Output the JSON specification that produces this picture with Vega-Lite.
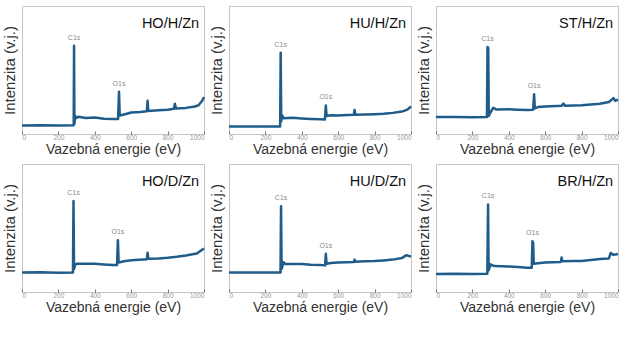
{
  "$schema": "https://vega.github.io/schema/vega-lite/v6.json",
  "padding": {"left": 1, "top": 5, "right": 5, "bottom": 5},
  "background": "white",
  "config": {
    "font": "Liberation Sans",
    "view": {"stroke": "#c4c4c4", "strokeWidth": 1},
    "line": {"color": "#1f5c8a", "strokeWidth": 2.5, "strokeJoin": "round"},
    "axisX": {
      "domain": false, "grid": false, "ticks": true, "tickSize": -3, "tickColor": "#777777",
      "labelFontSize": 6.5, "labelColor": "#999999", "labelPadding": 3, "format": "d",
      "titleFontSize": 14, "titleFontWeight": "normal", "titleColor": "#333333", "titlePadding": 2
    },
    "axisY": {
      "labels": false, "ticks": false, "domain": false, "grid": false,
      "titleFontSize": 15, "titleFontWeight": "normal", "titleColor": "#333333", "titlePadding": 5
    }
  },
  "datasets": {
    "spectra": [
      {"panel": "HO/H/Zn", "i": 1, "e": 0, "v": 6.6},
      {"panel": "HO/H/Zn", "i": 2, "e": 100, "v": 6.8},
      {"panel": "HO/H/Zn", "i": 3, "e": 200, "v": 6.6},
      {"panel": "HO/H/Zn", "i": 4, "e": 284, "v": 6.8},
      {"panel": "HO/H/Zn", "i": 5, "e": 286, "v": 69, "peak": "C1s"},
      {"panel": "HO/H/Zn", "i": 6, "e": 288, "v": 8},
      {"panel": "HO/H/Zn", "i": 7, "e": 292, "v": 14},
      {"panel": "HO/H/Zn", "i": 8, "e": 300, "v": 12.5},
      {"panel": "HO/H/Zn", "i": 9, "e": 310, "v": 13.5},
      {"panel": "HO/H/Zn", "i": 10, "e": 350, "v": 12.5},
      {"panel": "HO/H/Zn", "i": 11, "e": 400, "v": 12.8},
      {"panel": "HO/H/Zn", "i": 12, "e": 450, "v": 12},
      {"panel": "HO/H/Zn", "i": 13, "e": 500, "v": 11.8},
      {"panel": "HO/H/Zn", "i": 14, "e": 528, "v": 11.8},
      {"panel": "HO/H/Zn", "i": 15, "e": 533, "v": 33, "peak": "O1s"},
      {"panel": "HO/H/Zn", "i": 16, "e": 537, "v": 14.5},
      {"panel": "HO/H/Zn", "i": 17, "e": 560, "v": 15.3},
      {"panel": "HO/H/Zn", "i": 18, "e": 600, "v": 16.8},
      {"panel": "HO/H/Zn", "i": 19, "e": 650, "v": 17.2},
      {"panel": "HO/H/Zn", "i": 20, "e": 686, "v": 17.8},
      {"panel": "HO/H/Zn", "i": 21, "e": 690, "v": 26},
      {"panel": "HO/H/Zn", "i": 22, "e": 694, "v": 18},
      {"panel": "HO/H/Zn", "i": 23, "e": 750, "v": 18.5},
      {"panel": "HO/H/Zn", "i": 24, "e": 800, "v": 19},
      {"panel": "HO/H/Zn", "i": 25, "e": 835, "v": 19.8},
      {"panel": "HO/H/Zn", "i": 26, "e": 840, "v": 23.7},
      {"panel": "HO/H/Zn", "i": 27, "e": 846, "v": 20},
      {"panel": "HO/H/Zn", "i": 28, "e": 900, "v": 20.4},
      {"panel": "HO/H/Zn", "i": 29, "e": 950, "v": 21.5},
      {"panel": "HO/H/Zn", "i": 30, "e": 970, "v": 22.5},
      {"panel": "HO/H/Zn", "i": 31, "e": 990, "v": 26},
      {"panel": "HO/H/Zn", "i": 32, "e": 1000, "v": 28.8},

      {"panel": "HU/H/Zn", "i": 1, "e": 0, "v": 5.8},
      {"panel": "HU/H/Zn", "i": 2, "e": 100, "v": 5.9},
      {"panel": "HU/H/Zn", "i": 3, "e": 200, "v": 5.8},
      {"panel": "HU/H/Zn", "i": 4, "e": 281, "v": 5.9},
      {"panel": "HU/H/Zn", "i": 5, "e": 284, "v": 63.4, "peak": "C1s"},
      {"panel": "HU/H/Zn", "i": 6, "e": 287, "v": 10},
      {"panel": "HU/H/Zn", "i": 7, "e": 292, "v": 14.6},
      {"panel": "HU/H/Zn", "i": 8, "e": 300, "v": 12.4},
      {"panel": "HU/H/Zn", "i": 9, "e": 350, "v": 12.6},
      {"panel": "HU/H/Zn", "i": 10, "e": 400, "v": 12.2},
      {"panel": "HU/H/Zn", "i": 11, "e": 450, "v": 11.8},
      {"panel": "HU/H/Zn", "i": 12, "e": 500, "v": 11.5},
      {"panel": "HU/H/Zn", "i": 13, "e": 527, "v": 11.3},
      {"panel": "HU/H/Zn", "i": 14, "e": 532, "v": 22.3, "peak": "O1s"},
      {"panel": "HU/H/Zn", "i": 15, "e": 536, "v": 14},
      {"panel": "HU/H/Zn", "i": 16, "e": 560, "v": 14.6},
      {"panel": "HU/H/Zn", "i": 17, "e": 600, "v": 14.5},
      {"panel": "HU/H/Zn", "i": 18, "e": 650, "v": 14.8},
      {"panel": "HU/H/Zn", "i": 19, "e": 686, "v": 15},
      {"panel": "HU/H/Zn", "i": 20, "e": 690, "v": 18.7},
      {"panel": "HU/H/Zn", "i": 21, "e": 694, "v": 15},
      {"panel": "HU/H/Zn", "i": 22, "e": 750, "v": 15.2},
      {"panel": "HU/H/Zn", "i": 23, "e": 800, "v": 15.5},
      {"panel": "HU/H/Zn", "i": 24, "e": 850, "v": 15.8},
      {"panel": "HU/H/Zn", "i": 25, "e": 900, "v": 16.5},
      {"panel": "HU/H/Zn", "i": 26, "e": 950, "v": 17.5},
      {"panel": "HU/H/Zn", "i": 27, "e": 980, "v": 19},
      {"panel": "HU/H/Zn", "i": 28, "e": 1000, "v": 21.5},

      {"panel": "ST/H/Zn", "i": 1, "e": 0, "v": 13.2},
      {"panel": "ST/H/Zn", "i": 2, "e": 100, "v": 13.2},
      {"panel": "ST/H/Zn", "i": 3, "e": 200, "v": 13.1},
      {"panel": "ST/H/Zn", "i": 4, "e": 280, "v": 13.3},
      {"panel": "ST/H/Zn", "i": 5, "e": 283, "v": 68, "peak": "C1s"},
      {"panel": "ST/H/Zn", "i": 6, "e": 287, "v": 67},
      {"panel": "ST/H/Zn", "i": 7, "e": 290, "v": 14},
      {"panel": "ST/H/Zn", "i": 8, "e": 300, "v": 17},
      {"panel": "ST/H/Zn", "i": 9, "e": 315, "v": 20.5},
      {"panel": "ST/H/Zn", "i": 10, "e": 330, "v": 19.2},
      {"panel": "ST/H/Zn", "i": 11, "e": 400, "v": 19.3},
      {"panel": "ST/H/Zn", "i": 12, "e": 450, "v": 19},
      {"panel": "ST/H/Zn", "i": 13, "e": 500, "v": 18.8},
      {"panel": "ST/H/Zn", "i": 14, "e": 534, "v": 19},
      {"panel": "ST/H/Zn", "i": 15, "e": 539, "v": 31, "peak": "O1s"},
      {"panel": "ST/H/Zn", "i": 16, "e": 543, "v": 20},
      {"panel": "ST/H/Zn", "i": 17, "e": 560, "v": 21},
      {"panel": "ST/H/Zn", "i": 18, "e": 600, "v": 21.5},
      {"panel": "ST/H/Zn", "i": 19, "e": 690, "v": 22},
      {"panel": "ST/H/Zn", "i": 20, "e": 700, "v": 23.7},
      {"panel": "ST/H/Zn", "i": 21, "e": 710, "v": 22},
      {"panel": "ST/H/Zn", "i": 22, "e": 800, "v": 22.4},
      {"panel": "ST/H/Zn", "i": 23, "e": 850, "v": 23},
      {"panel": "ST/H/Zn", "i": 24, "e": 900, "v": 23.7},
      {"panel": "ST/H/Zn", "i": 25, "e": 950, "v": 25},
      {"panel": "ST/H/Zn", "i": 26, "e": 975, "v": 28},
      {"panel": "ST/H/Zn", "i": 27, "e": 985, "v": 26},
      {"panel": "ST/H/Zn", "i": 28, "e": 1000, "v": 26.8},

      {"panel": "HO/D/Zn", "i": 1, "e": 0, "v": 15.2},
      {"panel": "HO/D/Zn", "i": 2, "e": 100, "v": 15.4},
      {"panel": "HO/D/Zn", "i": 3, "e": 200, "v": 15},
      {"panel": "HO/D/Zn", "i": 4, "e": 280, "v": 15.3},
      {"panel": "HO/D/Zn", "i": 5, "e": 283, "v": 71, "peak": "C1s"},
      {"panel": "HO/D/Zn", "i": 6, "e": 286, "v": 18},
      {"panel": "HO/D/Zn", "i": 7, "e": 292, "v": 21.3},
      {"panel": "HO/D/Zn", "i": 8, "e": 300, "v": 22},
      {"panel": "HO/D/Zn", "i": 9, "e": 400, "v": 22},
      {"panel": "HO/D/Zn", "i": 10, "e": 450, "v": 21.5},
      {"panel": "HO/D/Zn", "i": 11, "e": 500, "v": 21},
      {"panel": "HO/D/Zn", "i": 12, "e": 522, "v": 21},
      {"panel": "HO/D/Zn", "i": 13, "e": 527, "v": 40.5, "peak": "O1s"},
      {"panel": "HO/D/Zn", "i": 14, "e": 531, "v": 23},
      {"panel": "HO/D/Zn", "i": 15, "e": 560, "v": 24},
      {"panel": "HO/D/Zn", "i": 16, "e": 600, "v": 24.8},
      {"panel": "HO/D/Zn", "i": 17, "e": 686, "v": 25.5},
      {"panel": "HO/D/Zn", "i": 18, "e": 690, "v": 30.7},
      {"panel": "HO/D/Zn", "i": 19, "e": 694, "v": 26},
      {"panel": "HO/D/Zn", "i": 20, "e": 750, "v": 26.2},
      {"panel": "HO/D/Zn", "i": 21, "e": 800, "v": 26.7},
      {"panel": "HO/D/Zn", "i": 22, "e": 850, "v": 27.5},
      {"panel": "HO/D/Zn", "i": 23, "e": 900, "v": 28.5},
      {"panel": "HO/D/Zn", "i": 24, "e": 960, "v": 30},
      {"panel": "HO/D/Zn", "i": 25, "e": 980, "v": 32},
      {"panel": "HO/D/Zn", "i": 26, "e": 1000, "v": 34},

      {"panel": "HU/D/Zn", "i": 1, "e": 0, "v": 15.2},
      {"panel": "HU/D/Zn", "i": 2, "e": 100, "v": 15.3},
      {"panel": "HU/D/Zn", "i": 3, "e": 200, "v": 15.2},
      {"panel": "HU/D/Zn", "i": 4, "e": 283, "v": 15.3},
      {"panel": "HU/D/Zn", "i": 5, "e": 286, "v": 67, "peak": "C1s"},
      {"panel": "HU/D/Zn", "i": 6, "e": 289, "v": 18},
      {"panel": "HU/D/Zn", "i": 7, "e": 300, "v": 23.2},
      {"panel": "HU/D/Zn", "i": 8, "e": 310, "v": 21.9},
      {"panel": "HU/D/Zn", "i": 9, "e": 400, "v": 21.8},
      {"panel": "HU/D/Zn", "i": 10, "e": 450, "v": 21.3},
      {"panel": "HU/D/Zn", "i": 11, "e": 500, "v": 21},
      {"panel": "HU/D/Zn", "i": 12, "e": 528, "v": 20.8},
      {"panel": "HU/D/Zn", "i": 13, "e": 532, "v": 29.9, "peak": "O1s"},
      {"panel": "HU/D/Zn", "i": 14, "e": 536, "v": 22},
      {"panel": "HU/D/Zn", "i": 15, "e": 560, "v": 22.7},
      {"panel": "HU/D/Zn", "i": 16, "e": 600, "v": 23},
      {"panel": "HU/D/Zn", "i": 17, "e": 686, "v": 23.5},
      {"panel": "HU/D/Zn", "i": 18, "e": 690, "v": 25.3},
      {"panel": "HU/D/Zn", "i": 19, "e": 694, "v": 23.6},
      {"panel": "HU/D/Zn", "i": 20, "e": 750, "v": 24},
      {"panel": "HU/D/Zn", "i": 21, "e": 800, "v": 24.2},
      {"panel": "HU/D/Zn", "i": 22, "e": 850, "v": 24.7},
      {"panel": "HU/D/Zn", "i": 23, "e": 900, "v": 25.3},
      {"panel": "HU/D/Zn", "i": 24, "e": 950, "v": 26.5},
      {"panel": "HU/D/Zn", "i": 25, "e": 975, "v": 28.8},
      {"panel": "HU/D/Zn", "i": 26, "e": 990, "v": 28},
      {"panel": "HU/D/Zn", "i": 27, "e": 1000, "v": 28},

      {"panel": "BR/H/Zn", "i": 1, "e": 0, "v": 14},
      {"panel": "BR/H/Zn", "i": 2, "e": 100, "v": 14.2},
      {"panel": "BR/H/Zn", "i": 3, "e": 200, "v": 14},
      {"panel": "BR/H/Zn", "i": 4, "e": 282, "v": 14.2},
      {"panel": "BR/H/Zn", "i": 5, "e": 286, "v": 68.4, "peak": "C1s"},
      {"panel": "BR/H/Zn", "i": 6, "e": 289, "v": 17},
      {"panel": "BR/H/Zn", "i": 7, "e": 300, "v": 21.6},
      {"panel": "BR/H/Zn", "i": 8, "e": 320, "v": 20.3},
      {"panel": "BR/H/Zn", "i": 9, "e": 400, "v": 20},
      {"panel": "BR/H/Zn", "i": 10, "e": 450, "v": 19.5},
      {"panel": "BR/H/Zn", "i": 11, "e": 500, "v": 19},
      {"panel": "BR/H/Zn", "i": 12, "e": 526, "v": 18.9},
      {"panel": "BR/H/Zn", "i": 13, "e": 530, "v": 39.7, "peak": "O1s"},
      {"panel": "BR/H/Zn", "i": 14, "e": 534, "v": 38},
      {"panel": "BR/H/Zn", "i": 15, "e": 537, "v": 22},
      {"panel": "BR/H/Zn", "i": 16, "e": 560, "v": 22.4},
      {"panel": "BR/H/Zn", "i": 17, "e": 600, "v": 23},
      {"panel": "BR/H/Zn", "i": 18, "e": 686, "v": 23.5},
      {"panel": "BR/H/Zn", "i": 19, "e": 690, "v": 27},
      {"panel": "BR/H/Zn", "i": 20, "e": 694, "v": 24},
      {"panel": "BR/H/Zn", "i": 21, "e": 750, "v": 24.2},
      {"panel": "BR/H/Zn", "i": 22, "e": 800, "v": 24.3},
      {"panel": "BR/H/Zn", "i": 23, "e": 850, "v": 25},
      {"panel": "BR/H/Zn", "i": 24, "e": 900, "v": 25.7},
      {"panel": "BR/H/Zn", "i": 25, "e": 950, "v": 26.2},
      {"panel": "BR/H/Zn", "i": 26, "e": 960, "v": 30.5},
      {"panel": "BR/H/Zn", "i": 27, "e": 975, "v": 29},
      {"panel": "BR/H/Zn", "i": 28, "e": 1000, "v": 29.7}
    ]
  },
  "data": {"name": "spectra"},
  "columns": 3,
  "bounds": "flush",
  "spacing": {"row": 30, "column": 25},
  "concat": [
    {
      "transform": [{"filter": "datum.panel == 'HO/H/Zn'"}],
      "width": 182, "height": 128,
      "encoding": {
        "x": {"field": "e", "type": "quantitative", "title": "Vazebná energie (eV)", "scale": {"domain": [0, 1000], "nice": false}, "axis": {"values": [0, 200, 400, 600, 800, 1000]}},
        "y": {"field": "v", "type": "quantitative", "title": "Intenzita (v.j.)", "scale": {"domain": [0, 100], "nice": false}}
      },
      "layer": [
        {"mark": "line", "encoding": {"order": {"field": "i", "type": "quantitative"}}},
        {"transform": [{"filter": "isValid(datum.peak)"}], "mark": {"type": "text", "dy": -8, "fontSize": 7, "color": "#8a8a8a"}, "encoding": {"text": {"field": "peak"}}},
        {"transform": [{"filter": "datum.i == 1"}], "mark": {"type": "text", "align": "right", "baseline": "middle", "fontSize": 14.5, "color": "#111111"}, "encoding": {"x": {"datum": 973}, "y": {"datum": 86}, "text": {"field": "panel"}}}
      ]
    },
    {
      "transform": [{"filter": "datum.panel == 'HU/H/Zn'"}],
      "width": 182, "height": 128,
      "encoding": {
        "x": {"field": "e", "type": "quantitative", "title": "Vazebná energie (eV)", "scale": {"domain": [0, 1000], "nice": false}, "axis": {"values": [0, 200, 400, 600, 800, 1000]}},
        "y": {"field": "v", "type": "quantitative", "title": "Intenzita (v.j.)", "scale": {"domain": [0, 100], "nice": false}}
      },
      "layer": [
        {"mark": "line", "encoding": {"order": {"field": "i", "type": "quantitative"}}},
        {"transform": [{"filter": "isValid(datum.peak)"}], "mark": {"type": "text", "dy": -8, "fontSize": 7, "color": "#8a8a8a"}, "encoding": {"text": {"field": "peak"}}},
        {"transform": [{"filter": "datum.i == 1"}], "mark": {"type": "text", "align": "right", "baseline": "middle", "fontSize": 14.5, "color": "#111111"}, "encoding": {"x": {"datum": 973}, "y": {"datum": 86}, "text": {"field": "panel"}}}
      ]
    },
    {
      "transform": [{"filter": "datum.panel == 'ST/H/Zn'"}],
      "width": 182, "height": 128,
      "encoding": {
        "x": {"field": "e", "type": "quantitative", "title": "Vazebná energie (eV)", "scale": {"domain": [0, 1000], "nice": false}, "axis": {"values": [0, 200, 400, 600, 800, 1000]}},
        "y": {"field": "v", "type": "quantitative", "title": "Intenzita (v.j.)", "scale": {"domain": [0, 100], "nice": false}}
      },
      "layer": [
        {"mark": "line", "encoding": {"order": {"field": "i", "type": "quantitative"}}},
        {"transform": [{"filter": "isValid(datum.peak)"}], "mark": {"type": "text", "dy": -8, "fontSize": 7, "color": "#8a8a8a"}, "encoding": {"text": {"field": "peak"}}},
        {"transform": [{"filter": "datum.i == 1"}], "mark": {"type": "text", "align": "right", "baseline": "middle", "fontSize": 14.5, "color": "#111111"}, "encoding": {"x": {"datum": 973}, "y": {"datum": 86}, "text": {"field": "panel"}}}
      ]
    },
    {
      "transform": [{"filter": "datum.panel == 'HO/D/Zn'"}],
      "width": 182, "height": 128,
      "encoding": {
        "x": {"field": "e", "type": "quantitative", "title": "Vazebná energie (eV)", "scale": {"domain": [0, 1000], "nice": false}, "axis": {"values": [0, 200, 400, 600, 800, 1000]}},
        "y": {"field": "v", "type": "quantitative", "title": "Intenzita (v.j.)", "scale": {"domain": [0, 100], "nice": false}}
      },
      "layer": [
        {"mark": "line", "encoding": {"order": {"field": "i", "type": "quantitative"}}},
        {"transform": [{"filter": "isValid(datum.peak)"}], "mark": {"type": "text", "dy": -8, "fontSize": 7, "color": "#8a8a8a"}, "encoding": {"text": {"field": "peak"}}},
        {"transform": [{"filter": "datum.i == 1"}], "mark": {"type": "text", "align": "right", "baseline": "middle", "fontSize": 14.5, "color": "#111111"}, "encoding": {"x": {"datum": 973}, "y": {"datum": 86}, "text": {"field": "panel"}}}
      ]
    },
    {
      "transform": [{"filter": "datum.panel == 'HU/D/Zn'"}],
      "width": 182, "height": 128,
      "encoding": {
        "x": {"field": "e", "type": "quantitative", "title": "Vazebná energie (eV)", "scale": {"domain": [0, 1000], "nice": false}, "axis": {"values": [0, 200, 400, 600, 800, 1000]}},
        "y": {"field": "v", "type": "quantitative", "title": "Intenzita (v.j.)", "scale": {"domain": [0, 100], "nice": false}}
      },
      "layer": [
        {"mark": "line", "encoding": {"order": {"field": "i", "type": "quantitative"}}},
        {"transform": [{"filter": "isValid(datum.peak)"}], "mark": {"type": "text", "dy": -8, "fontSize": 7, "color": "#8a8a8a"}, "encoding": {"text": {"field": "peak"}}},
        {"transform": [{"filter": "datum.i == 1"}], "mark": {"type": "text", "align": "right", "baseline": "middle", "fontSize": 14.5, "color": "#111111"}, "encoding": {"x": {"datum": 973}, "y": {"datum": 86}, "text": {"field": "panel"}}}
      ]
    },
    {
      "transform": [{"filter": "datum.panel == 'BR/H/Zn'"}],
      "width": 182, "height": 128,
      "encoding": {
        "x": {"field": "e", "type": "quantitative", "title": "Vazebná energie (eV)", "scale": {"domain": [0, 1000], "nice": false}, "axis": {"values": [0, 200, 400, 600, 800, 1000]}},
        "y": {"field": "v", "type": "quantitative", "title": "Intenzita (v.j.)", "scale": {"domain": [0, 100], "nice": false}}
      },
      "layer": [
        {"mark": "line", "encoding": {"order": {"field": "i", "type": "quantitative"}}},
        {"transform": [{"filter": "isValid(datum.peak)"}], "mark": {"type": "text", "dy": -8, "fontSize": 7, "color": "#8a8a8a"}, "encoding": {"text": {"field": "peak"}}},
        {"transform": [{"filter": "datum.i == 1"}], "mark": {"type": "text", "align": "right", "baseline": "middle", "fontSize": 14.5, "color": "#111111"}, "encoding": {"x": {"datum": 973}, "y": {"datum": 86}, "text": {"field": "panel"}}}
      ]
    }
  ]
}
